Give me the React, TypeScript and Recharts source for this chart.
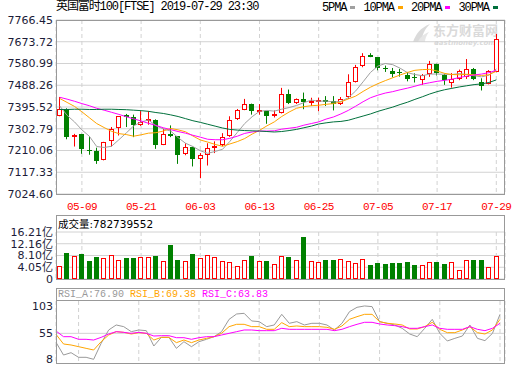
import React from "react";
import {
  ComposedChart,
  Bar,
  Line,
  XAxis,
  YAxis,
  CartesianGrid,
  ReferenceLine,
} from "recharts";

// --- values ---

const dates = [
  "05-03", "05-07", "05-08", "05-09", "05-10", "05-13", "05-14", "05-15", "05-16", "05-17",
  "05-20", "05-21", "05-22", "05-23", "05-24", "05-28", "05-29", "05-30", "05-31", "06-03",
  "06-04", "06-05", "06-06", "06-07", "06-10", "06-11", "06-12", "06-13", "06-14", "06-17",
  "06-18", "06-19", "06-20", "06-21", "06-24", "06-25", "06-26", "06-27", "06-28", "07-01",
  "07-02", "07-03", "07-04", "07-05", "07-08", "07-09", "07-10", "07-11", "07-12", "07-15",
  "07-16", "07-17", "07-18", "07-19", "07-22", "07-23", "07-24", "07-25", "07-26", "07-29",
];

const opens = [
  7360, 7386, 7267, 7279, 7213, 7210, 7170, 7251, 7306, 7363,
  7353, 7317, 7338, 7341, 7236, 7281, 7270, 7192, 7223, 7170,
  7192, 7220, 7231, 7270, 7341, 7384, 7408, 7377, 7377, 7356,
  7370, 7450, 7410, 7428, 7414, 7418, 7424, 7421, 7407, 7436,
  7502, 7568, 7618, 7607, 7560, 7551, 7545, 7531, 7524, 7511,
  7534, 7577, 7533, 7498, 7518, 7522, 7558, 7504, 7494, 7546,
];
const highs = [
  7438, 7390, 7281, 7281, 7271, 7222, 7247, 7310, 7357, 7366,
  7363, 7378, 7378, 7343, 7303, 7317, 7272, 7241, 7226, 7199,
  7241, 7249, 7284, 7356, 7387, 7430, 7410, 7408, 7379, 7381,
  7477, 7470, 7432, 7457, 7435, 7435, 7442, 7442, 7438, 7535,
  7575, 7625, 7625, 7608, 7572, 7562, 7558, 7545, 7539, 7536,
  7592, 7580, 7538, 7540, 7555, 7600, 7562, 7518, 7553, 7707,
];
const lows = [
  7356, 7258, 7227, 7196, 7192, 7153, 7168, 7227, 7274, 7310,
  7267, 7315, 7320, 7217, 7233, 7267, 7153, 7190, 7142, 7092,
  7146, 7199, 7228, 7268, 7340, 7382, 7363, 7363, 7324, 7351,
  7368, 7408, 7408, 7386, 7400, 7378, 7400, 7381, 7404, 7430,
  7500, 7565, 7608, 7552, 7545, 7522, 7525, 7505, 7500, 7490,
  7524, 7530, 7490, 7478, 7510, 7515, 7510, 7466, 7492, 7544,
];
const closes = [
  7388, 7267, 7277, 7214, 7210, 7167, 7246, 7301, 7356, 7353,
  7317, 7331, 7343, 7236, 7281, 7274, 7189, 7223, 7170, 7189,
  7220, 7230, 7266, 7338, 7381, 7408, 7377, 7381, 7356, 7366,
  7451, 7411, 7428, 7414, 7421, 7424, 7417, 7407, 7428, 7500,
  7567, 7611, 7611, 7561, 7556, 7539, 7540, 7514, 7519, 7532,
  7577, 7538, 7510, 7515, 7550, 7556, 7515, 7486, 7549, 7686,
];

const ma5 = [
  7400, 7360, 7332, 7298, 7271, 7227, 7223, 7228, 7256, 7285,
  7315, 7332, 7340, 7316, 7302, 7293, 7265, 7241, 7227, 7209,
  7198, 7206, 7215, 7249, 7287, 7325, 7354, 7377, 7381, 7378,
  7386, 7393, 7402, 7414, 7425, 7420, 7421, 7417, 7419, 7435,
  7464, 7503, 7543, 7570, 7581, 7576, 7561, 7542, 7534, 7529,
  7536, 7536, 7535, 7534, 7538, 7534, 7529, 7524, 7531, 7558,
];
const ma10 = [
  7432, 7415, 7398, 7375, 7350, 7325, 7308, 7292, 7282, 7278,
  7271, 7277, 7284, 7286, 7293, 7304, 7298, 7290, 7272, 7255,
  7246, 7236, 7228, 7238, 7248, 7261, 7280, 7296, 7315, 7332,
  7355, 7374, 7390, 7397, 7401, 7403, 7407, 7410, 7417, 7430,
  7442, 7462, 7480, 7495, 7508, 7520, 7532, 7543, 7552, 7555,
  7556, 7549, 7539, 7534, 7533, 7535, 7533, 7530, 7533, 7548,
];
const ma20 = [
  7437, 7429, 7420, 7410, 7401, 7390, 7382, 7373, 7364, 7354,
  7345, 7336, 7326, 7317, 7307, 7299, 7291, 7284, 7275, 7267,
  7258, 7256, 7256, 7262, 7271, 7283, 7289, 7293, 7293, 7294,
  7301, 7305, 7309, 7318, 7325, 7332, 7344, 7353, 7366, 7381,
  7399, 7418, 7435, 7446, 7455, 7461, 7469, 7476, 7484, 7493,
  7499, 7505, 7509, 7514, 7521, 7527, 7532, 7536, 7542, 7552,
];
const ma30 = [
  7385, 7385, 7386, 7386, 7385, 7385, 7386, 7386, 7385, 7384,
  7382, 7380, 7377, 7372, 7368, 7362, 7355, 7346, 7337, 7330,
  7322, 7314, 7306, 7300, 7297, 7295, 7294, 7293, 7291, 7289,
  7291, 7295, 7300, 7307, 7314, 7323, 7328, 7332, 7334, 7339,
  7348, 7357, 7366, 7377, 7386, 7395, 7406, 7416, 7428, 7439,
  7451, 7461, 7469, 7475, 7481, 7486, 7491, 7494, 7500, 7511,
];

// volume in 亿
const volumes = [
  4.5, 9.0, 7.9, 8.65, 6.3, 7.5, 7.2, 8.2, 6.5, 7.2,
  7.2, 7.5, 7.75, 8.0, 6.2, 11.6, 6.5, 6.2, 8.65, 7.2,
  8.2, 7.5, 6.2, 5.8, 4.5, 6.5, 8.0, 6.2, 6.2, 5.2,
  7.9, 7.5, 6.7, 14.4, 6.2, 5.8, 6.5, 6.5, 6.85, 6.2,
  5.5, 6.85, 4.8, 5.6, 5.2, 5.6, 5.6, 5.8, 4.8, 4.8,
  5.8, 5.8, 5.3, 5.8, 3.1, 6.5, 6.5, 6.5, 4.2, 7.83,
];

const rsiA = [
  38.9, 16.1, 20.3, 12, 12, 8.4, 37.1, 61, 70, 67,
  58, 61, 59.8, 32.3, 47.8, 47.8, 28.1, 40, 31.1, 40,
  44.3, 49, 58, 80.1, 89.7, 90.9, 77.2, 76, 67, 70,
  89.1, 73, 76, 70, 73, 73, 70, 61, 73, 93.9,
  101.7, 104.1, 102.9, 76, 73, 70, 64, 53.8, 49, 64,
  80.1, 55, 41.3, 46, 50.2, 70, 46, 41.9, 55, 89.1,
];
const rsiB = [
  53.2, 35.9, 34.1, 31.1, 28.1, 25.1, 40, 52, 58, 56.8,
  53.8, 56.2, 55, 43, 47.8, 47.8, 38.3, 43, 38.3, 43,
  46, 49, 55, 67, 71.2, 71.2, 67, 67, 62.2, 62.2,
  74.2, 67, 68.2, 67, 67, 67, 65.8, 62.2, 68.2, 80.1,
  84.9, 89.1, 89.1, 76, 73, 71.8, 70, 62.8, 62.8, 67,
  74.8, 62.2, 56.2, 56.2, 61, 67, 56.2, 53.8, 61, 80.1,
];
const rsiC = [
  59.2, 49, 49, 44.3, 44.3, 43, 47.8, 53.8, 58, 56.8,
  55, 56.8, 55, 50.2, 50.8, 50.8, 47.2, 47.2, 44.3, 47.2,
  49, 49, 52, 55, 58, 61, 61, 59.8, 59.8, 59.8,
  64, 62.2, 62.2, 62.2, 62.2, 62.2, 62.2, 59.8, 62.2, 67,
  71.2, 74.8, 74.8, 71.8, 70, 68.8, 67, 64, 64, 67,
  70, 64, 62.2, 62.2, 62.2, 67, 62.2, 59.8, 64, 73,
];

const xTicks = ["05-09", "05-21", "06-03", "06-13", "06-25", "07-05", "07-17", "07-29"];
const priceTicks = [7024.6, 7117.33, 7210.06, 7302.79, 7395.52, 7488.26, 7580.99, 7673.72, 7766.45];
const volTicks = [0, 4.05, 8.1, 12.16, 16.21];
const rsiTicks = [8, 55, 103];

const rows = dates.map((date, i) => ({
  date,
  open: opens[i],
  high: highs[i],
  low: lows[i],
  close: closes[i],
  range: [lows[i], highs[i]],
  up: closes[i] >= opens[i],
  ma5: ma5[i],
  ma10: ma10[i],
  ma20: ma20[i],
  ma30: ma30[i],
  vol: volumes[i],
  rsiA: rsiA[i],
  rsiB: rsiB[i],
  rsiC: rsiC[i],
}));

const RED = "#ff0000";
const GREEN = "#008000";
const GRID = "#d2d2d2";
const BOX = "#999999";
const AXIS_TEXT = "#1c1c38";
const MONO = "'Liberation Mono', 'Noto Sans CJK SC', monospace";
const SANS = "'DejaVu Sans', 'Noto Sans CJK SC', sans-serif";

const maSeries = [
  { key: "ma5", label: "5PMA", color: "#a0a0a0" },
  { key: "ma10", label: "10PMA", color: "#ffa500" },
  { key: "ma20", label: "20PMA", color: "#ff00ff" },
  { key: "ma30", label: "30PMA", color: "#00703c" },
];

// --- shapes ---

const Candle = (props: any) => {
  const { x, y, width, height, payload } = props;
  if (!payload) return null;
  const { open, close, high, low, up } = payload;
  const color = up ? RED : GREEN;
  const top = Math.min(y, y + height);
  const h = Math.abs(height);
  const k = high > low ? h / (high - low) : 0;
  const bodyTop = top + (high - Math.max(open, close)) * k;
  const bodyH = Math.max(Math.abs(open - close) * k, 1);
  const left = Math.round(x);
  const mid = left + Math.floor(width / 2) + 0.5;
  return (
    <g>
      <line x1={mid} x2={mid} y1={top} y2={top + h} stroke={color} strokeWidth={1} />
      {up ? (
        <rect x={left + 0.5} y={Math.round(bodyTop) + 0.5} width={width - 1} height={Math.max(Math.round(bodyH) - 1, 1)} fill="#fff" stroke={color} strokeWidth={1} />
      ) : (
        <rect x={left} y={Math.round(bodyTop)} width={width} height={Math.max(Math.round(bodyH), 1)} fill={color} />
      )}
    </g>
  );
};

const VolBar = (props: any) => {
  const { x, y, width, height, payload } = props;
  if (!payload) return null;
  const top = Math.round(Math.min(y, y + height));
  const h = Math.round(Math.abs(height));
  const left = Math.round(x);
  return payload.up ? (
    <rect x={left + 0.5} y={top + 0.5} width={width - 1} height={Math.max(h - 1, 1)} fill="#fff" stroke={RED} strokeWidth={1} />
  ) : (
    <rect x={left} y={top} width={width} height={h} fill={GREEN} />
  );
};

const axisTick = { fill: AXIS_TEXT, fontSize: 11, fontFamily: SANS };

const Box = ({ left, top, width, height }: any) => (
  <div
    style={{
      position: "absolute",
      left,
      top,
      width,
      height,
      boxSizing: "border-box",
      border: `1px solid ${BOX}`,
      pointerEvents: "none",
    }}
  />
);

export default function App() {
  return (
    <div
      style={{
        position: "absolute",
        left: 0,
        top: 0,
        width: 520,
        height: 365,
        background: "#fff",
        overflow: "hidden",
      }}
    >
      {/* watermark */}
      <div style={{ position: "absolute", left: 410, top: 22, width: 96, height: 24, color: "#dadada" }}>
        <svg width={22} height={22} style={{ position: "absolute", left: 0, top: 0 }}>
          <path d="M3 20 C6 12 10 6 20 2 C14 8 12 13 12 20 Z" fill="#dadada" />
          <path d="M8 20 C10 15 14 12 19 10 C16 14 15 17 15 20 Z" fill="#e6e6e6" />
        </svg>
        <div style={{ position: "absolute", left: 23, top: 1, fontSize: 13, fontWeight: 700, fontFamily: "'Noto Sans CJK SC', sans-serif", lineHeight: "13px" }}>
          东方财富网
        </div>
        <div style={{ position: "absolute", left: 24, top: 18, fontSize: 7, fontWeight: 700, fontStyle: "italic", fontFamily: SANS, lineHeight: "7px" }}>
          eastmoney.com
        </div>
      </div>

      {/* title + legend */}
      <div style={{ position: "absolute", left: 56, top: 0, fontSize: 12, lineHeight: "15px", fontFamily: MONO, letterSpacing: -1.1, color: "#000", whiteSpace: "nowrap" }}>
        英国富时100[FTSE] 2019-07-29 23:30
      </div>
      <div style={{ position: "absolute", left: 322, top: 0, display: "flex", alignItems: "center", height: 15, fontSize: 12, fontFamily: MONO, letterSpacing: -1.1, color: "#000", whiteSpace: "nowrap" }}>
        {maSeries.map((s) => (
          <span key={s.key} style={{ display: "flex", alignItems: "center", marginRight: 8 }}>
            {s.label}
            <span style={{ display: "inline-block", width: 5, height: 3, marginLeft: 4, background: s.color }} />
          </span>
        ))}
      </div>

      {/* price chart */}
      <div style={{ position: "absolute", left: 0, top: 0 }}>
        <ComposedChart width={520} height={215} data={rows} margin={{ top: 20, right: 15, bottom: 0, left: 0 }}>
          <CartesianGrid vertical={false} stroke={GRID} />
          <CartesianGrid horizontal={false} stroke={GRID} strokeDasharray="4 3" />
          <XAxis
            dataKey="date"
            ticks={xTicks}
            interval={0}
            height={21}
            tickLine={false}
            axisLine={false}
            tickSize={0}
            tickMargin={8}
            padding={{ left: 0, right: 5 }}
            tick={{ fill: RED, fontSize: 11, fontFamily: MONO, letterSpacing: -0.6 } as any}
          />
          <YAxis
            domain={[7024.6, 7766.45]}
            ticks={priceTicks}
            interval={0}
            allowDataOverflow
            width={56}
            tickLine={false}
            axisLine={false}
            tickSize={0}
            tickMargin={3}
            tickFormatter={(v: number) => v.toFixed(2)}
            tick={axisTick}
          />
          {maSeries.map((s) => (
            <Line
              key={s.key}
              type="linear"
              dataKey={s.key}
              stroke={s.color}
              strokeWidth={1}
              dot={false}
              activeDot={false}
              isAnimationActive={false}
            />
          ))}
          <Bar dataKey="range" barSize={5} shape={Candle} isAnimationActive={false} />
        </ComposedChart>
      </div>

      {/* volume */}
      <div style={{ position: "absolute", left: 58, top: 215, height: 17, display: "flex", alignItems: "center", fontSize: 10.5, fontFamily: SANS, color: "#000", whiteSpace: "nowrap" }}>
        成交量:782739552
      </div>
      <div style={{ position: "absolute", left: 0, top: 215 }}>
        <ComposedChart width={520} height={75} data={rows} margin={{ top: 17, right: 15, bottom: 11, left: 0 }}>
          <CartesianGrid vertical={false} stroke={GRID} />
          <CartesianGrid horizontal={false} stroke={GRID} strokeDasharray="4 3" />
          <XAxis dataKey="date" ticks={xTicks} interval={0} hide padding={{ left: 0, right: 5 }} />
          <YAxis
            domain={[0, 16.21]}
            ticks={volTicks}
            interval={0}
            width={56}
            tickLine={false}
            axisLine={false}
            tickSize={0}
            tickMargin={3}
            tickFormatter={(v: number) => (v === 0 ? "0" : v.toFixed(2) + "亿")}
            tick={axisTick}
          />
          <Bar dataKey="vol" barSize={5} shape={VolBar} isAnimationActive={false} />
        </ComposedChart>
      </div>

      {/* RSI */}
      <div style={{ position: "absolute", left: 56, top: 288, width: 449, height: 13, boxSizing: "border-box", borderBottom: `1px solid ${BOX}`, pointerEvents: "none" }} />
      <div style={{ position: "absolute", left: 58, top: 288, height: 13, display: "flex", alignItems: "center", fontSize: 10, fontFamily: MONO, whiteSpace: "pre" }}>
        <span style={{ color: "#999" }}>RSI_A:76.90 </span>
        <span style={{ color: "#ffa500" }}>RSI_B:69.38 </span>
        <span style={{ color: "#ff00ff" }}>RSI_C:63.83</span>
      </div>
      <div style={{ position: "absolute", left: 0, top: 288 }}>
        <ComposedChart width={520} height={77} data={rows} margin={{ top: 13, right: 15, bottom: 1, left: 0 }}>
          <CartesianGrid horizontal={false} stroke={GRID} strokeDasharray="4 3" />
          <XAxis dataKey="date" ticks={xTicks} interval={0} hide padding={{ left: 0, right: 5 }} />
          <YAxis
            domain={[0, 113]}
            ticks={rsiTicks}
            interval={0}
            allowDataOverflow
            width={56}
            tickLine={false}
            axisLine={false}
            tickSize={0}
            tickMargin={3}
            tick={axisTick}
          />
          <ReferenceLine y={55} stroke={GRID} />
          <Line type="linear" dataKey="rsiA" stroke="#999999" strokeWidth={1} dot={false} activeDot={false} isAnimationActive={false} />
          <Line type="linear" dataKey="rsiB" stroke="#ffa500" strokeWidth={1} dot={false} activeDot={false} isAnimationActive={false} />
          <Line type="linear" dataKey="rsiC" stroke="#ff00ff" strokeWidth={1} dot={false} activeDot={false} isAnimationActive={false} />
        </ComposedChart>
      </div>

      {/* frames */}
      <Box left={56} top={20} width={449} height={175} />
      <Box left={56} top={215} width={449} height={65} />
      <Box left={56} top={288} width={449} height={76} />
    </div>
  );
}
